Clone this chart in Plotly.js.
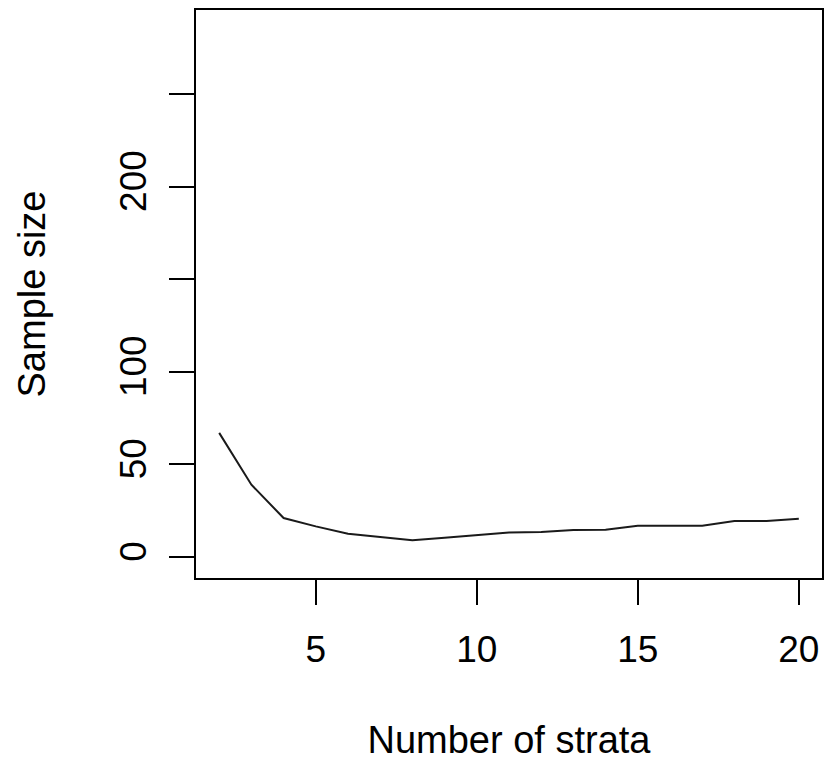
<!DOCTYPE html>
<html>
<head>
<meta charset="utf-8">
<script src="https://cdn.plot.ly/plotly-3.0.1.min.js"></script>
<style>html,body{margin:0;padding:0;background:#fff;}#chart{width:830px;height:761px;}</style>
</head>
<body>
<div id="chart"></div>
<script>
const strata = [2, 3, 4, 5, 6, 7, 8, 9, 10, 11, 12, 13, 14, 15, 16, 17, 18, 19, 20];
const sampleSize = [67, 39, 21, 16.5, 12.5, 10.7, 9, 10.3, 11.6, 13.2, 13.4, 14.5, 14.7, 16.8, 16.8, 16.8, 19.4, 19.4, 20.6];
const xTickVals = [5, 10, 15, 20];
const xTickText = ['5', '10', '15', '20'];
const yTickVals = [0, 50, 100, 150, 200, 250];
const yTickText = ['0', '50', '100', '', '200', ''];

const font = {family: 'Liberation Sans, Arial, sans-serif', color: '#000', size: 37};
const titleFont = {family: 'Liberation Sans, Arial, sans-serif', color: '#000', size: 38};

const trace = {
  x: strata, y: sampleSize, type: 'scatter', mode: 'lines',
  line: {color: '#1a1a1a', width: 2}, hoverinfo: 'skip'
};

const layout = {
  width: 830, height: 761,
  margin: {l: 196, r: 8, t: 10, b: 183},
  paper_bgcolor: '#fff', plot_bgcolor: '#fff',
  showlegend: false,
  font: font,
  xaxis: {
    range: [1.28, 20.72], tickmode: 'array', tickvals: xTickVals, ticktext: xTickText,
    ticks: 'outside', ticklen: 25, tickwidth: 2, tickcolor: '#000',
    showline: true, mirror: true, linewidth: 2, linecolor: '#000',
    showgrid: false, zeroline: false, tickfont: font, ticklabelstandoff: 13,
    title: {text: 'Number of strata', font: titleFont, standoff: 62}
  },
  yaxis: {
    range: [-11.4, 295.4], tickmode: 'array', tickvals: yTickVals, ticktext: yTickText,
    ticks: 'outside', ticklen: 25, tickwidth: 2, tickcolor: '#000',
    showline: true, mirror: true, linewidth: 2, linecolor: '#000',
    showgrid: false, zeroline: false, tickfont: font, tickangle: -90, ticklabelstandoff: 8,
    title: {text: 'Sample size', font: titleFont, standoff: 56}
  }
};

Plotly.newPlot('chart', [trace], layout, {staticPlot: true, displayModeBar: false});
</script>
</body>
</html>
